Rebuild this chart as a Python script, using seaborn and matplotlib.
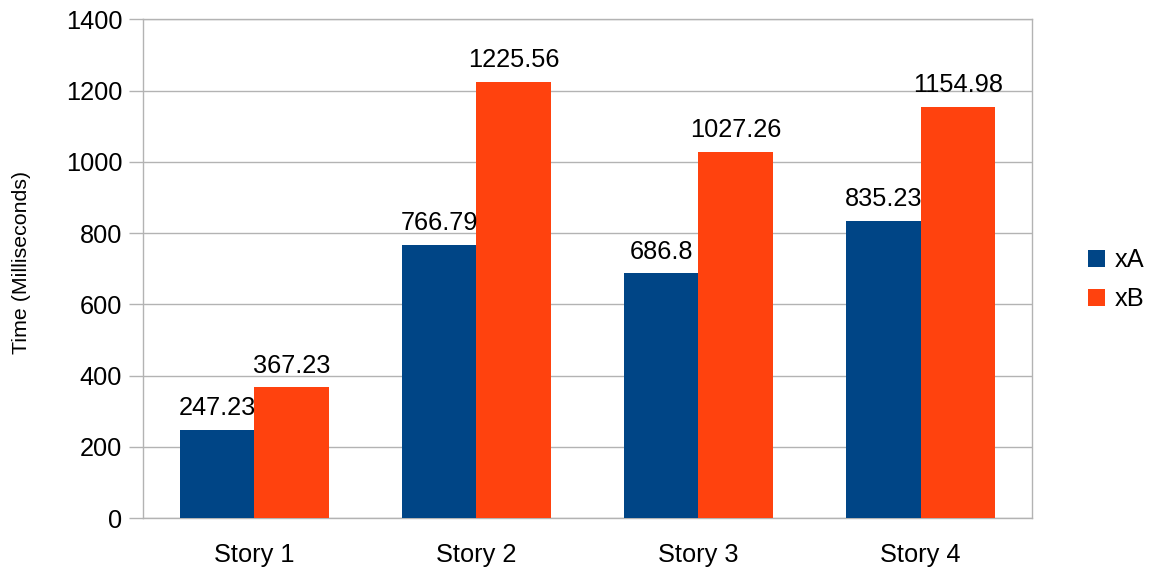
import matplotlib
matplotlib.use("Agg")
import matplotlib.pyplot as plt
import seaborn as sns
import pandas as pd
import numpy as np

stories = ["Story 1", "Story 2", "Story 3", "Story 4"]
series_names = ["xA", "xB"]
xa_values = [247.23, 766.79, 686.8, 835.23]
xb_values = [367.23, 1225.56, 1027.26, 1154.98]
y_ticks = [0, 200, 400, 600, 800, 1000, 1200, 1400]

df = pd.DataFrame({
    "story": stories * 2,
    "series": [series_names[0]] * len(stories) + [series_names[1]] * len(stories),
    "time": xa_values + xb_values,
})

sns.set_theme(style="white")
plt.rcParams["font.family"] = ["Liberation Sans", "DejaVu Sans"]
plt.rcParams["text.color"] = "black"
plt.rcParams["axes.labelcolor"] = "black"
plt.rcParams["xtick.color"] = "black"
plt.rcParams["ytick.color"] = "black"

grid_color = "#b3b3b3"
palette = {"xA": "#004586", "xB": "#ff420e"}
fs = 18.3

fig = plt.figure(figsize=(11.58, 5.71), dpi=100)
ax = fig.add_axes([0.1235, 0.0928, 0.7675, 0.8731])

sns.barplot(data=df, x="story", y="time", hue="series", palette=palette,
            width=0.67, saturation=1, ax=ax, zorder=3, linewidth=0)

for container in ax.containers:
    ax.bar_label(container, fmt="{:g}", padding=7, fontsize=fs, color="black")

ax.set_ylim(0, 1400)
ax.set_xlim(-0.5, len(stories) - 0.5)
ax.set_yticks(y_ticks)
ax.set_yticklabels([str(t) for t in y_ticks], fontsize=fs)
ax.yaxis.grid(True, color=grid_color, linewidth=1, zorder=0)
ax.set_axisbelow(True)

# category labels centred, tick marks on the category boundaries
ax.tick_params(axis="x", which="major", length=0, labelsize=fs, pad=18, labelcolor="black")
ax.set_xticks(np.arange(-0.5, len(stories)), minor=True)
ax.tick_params(axis="x", which="minor", length=12, width=1, color=grid_color, direction="out")
ax.tick_params(axis="y", which="major", length=10, width=1, color=grid_color,
               direction="out", pad=5, left=True, labelcolor="black")

for side in ["left", "right", "top", "bottom"]:
    ax.spines[side].set_visible(True)
    ax.spines[side].set_color(grid_color)
    ax.spines[side].set_linewidth(1)

ax.set_xlabel("")
ax.set_ylabel("Time (Milliseconds)", fontsize=15.4, color="black")
ax.yaxis.set_label_coords(-0.126, 0.512)

handles, labels = ax.get_legend_handles_labels()
ax.legend(handles, labels, loc="center left", bbox_to_anchor=(0.92, 0.51),
          bbox_transform=fig.transFigure, frameon=False, fontsize=fs,
          handlelength=0.65, handleheight=0.65, handletextpad=0.4, labelspacing=0.6)

fig.savefig("out.png", dpi=100)
